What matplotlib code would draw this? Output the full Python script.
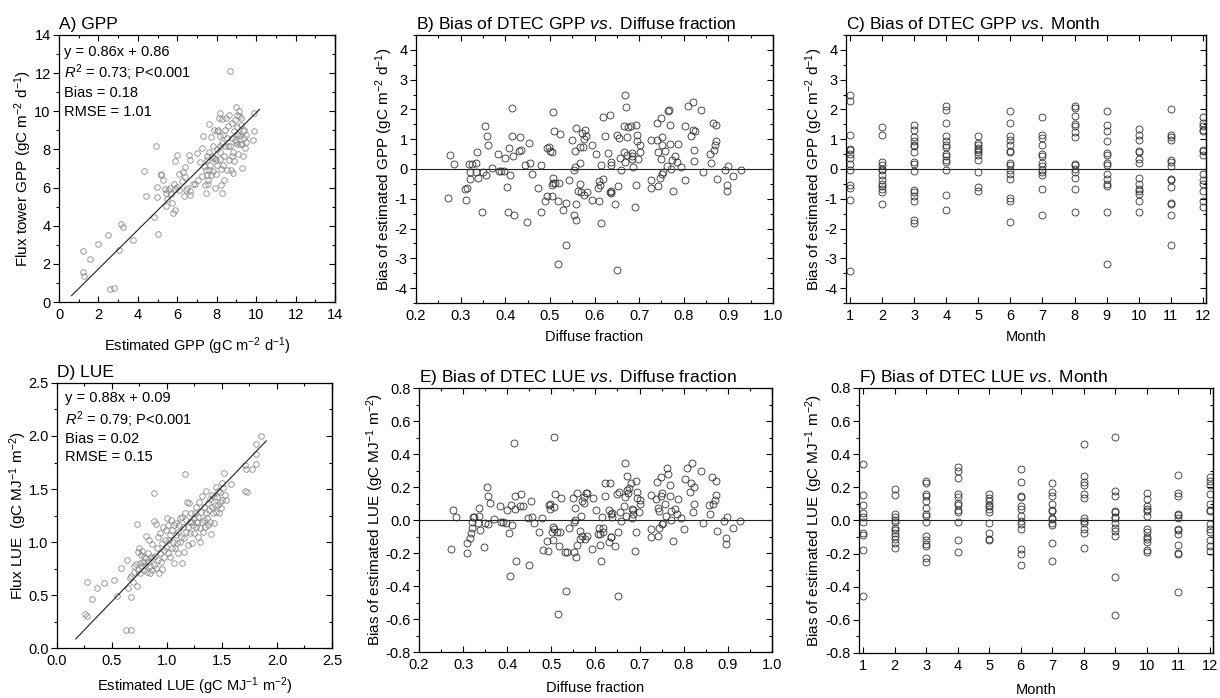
import matplotlib
matplotlib.use("Agg")
import matplotlib.pyplot as plt
from matplotlib.ticker import MultipleLocator, NullLocator, FormatStrFormatter

plt.rcParams['font.family'] = ['Liberation Sans', 'DejaVu Sans']
plt.rcParams['mathtext.fontset'] = 'custom'
plt.rcParams['mathtext.rm'] = 'Liberation Sans'
plt.rcParams['mathtext.it'] = 'Liberation Sans:italic'
plt.rcParams['axes.unicode_minus'] = False

# ---- A) GPP: estimated vs flux tower ----
a_est = [1.19, 1.22, 1.25, 1.56, 1.98, 2.46, 2.58, 2.78, 3.02, 3.15,
         3.25, 3.73, 4.30, 4.41, 4.92, 4.83, 4.98, 4.98, 5.03, 5.15,
         5.19, 5.29, 5.36, 5.41, 5.42, 5.46, 5.54, 5.63, 5.69, 5.73,
         5.76, 5.83, 5.86, 5.88, 5.90, 5.97, 5.97, 6.08, 6.10, 6.22,
         6.31, 6.36, 6.39, 6.41, 6.44, 6.51, 6.61, 6.64, 6.64, 6.64,
         6.81, 6.90, 6.98, 7.07, 7.17, 7.27, 7.32, 7.41, 7.46, 7.49,
         7.53, 7.53, 7.58, 7.59, 7.59, 7.63, 7.66, 7.69, 7.73, 7.76,
         7.80, 7.83, 7.86, 7.90, 7.92, 7.95, 7.97, 8.00, 8.03, 8.08,
         8.10, 8.14, 8.14, 8.17, 8.19, 8.20, 8.24, 8.25, 8.25, 8.29,
         8.31, 8.34, 8.37, 8.41, 8.44, 8.47, 8.51, 8.54, 8.58, 8.61,
         8.64, 8.66, 8.68, 8.71, 8.75, 8.78, 8.81, 8.85, 8.88, 8.90,
         8.93, 8.97, 9.00, 9.02, 9.03, 9.05, 9.07, 9.10, 9.12, 9.14,
         9.17, 9.19, 9.22, 9.25, 9.27, 9.29, 9.31, 9.34, 9.36, 9.39,
         9.42, 9.46, 9.49, 9.86, 9.88, 9.90,
         7.24, 7.36, 7.46, 7.56, 7.83, 8.00, 8.17, 8.39, 8.56, 8.78, 8.93, 9.05]
a_flux = [2.69, 1.55, 1.38, 2.25, 3.05, 3.49, 0.68, 0.73, 2.74, 4.10,
          3.91, 3.26, 6.88, 5.58, 8.18, 4.45, 6.01, 5.53, 3.58, 6.73,
          6.65, 6.39, 5.92, 5.74, 5.01, 5.39, 5.85, 5.97, 5.67, 5.18,
          4.66, 6.20, 4.83, 5.92, 7.40, 7.73, 6.02, 5.85, 6.70, 6.32,
          6.81, 5.57, 7.10, 6.58, 5.85, 5.97, 7.70, 5.80, 5.59, 7.42,
          6.20, 6.18, 7.82, 6.41, 7.33, 8.05, 8.72, 6.15, 5.74, 7.42,
          6.65, 7.65, 6.39, 6.93, 9.35, 7.86, 7.17, 6.65, 8.66, 7.68,
          8.17, 6.85, 9.04, 5.97, 7.56, 7.44, 6.69, 8.01, 7.16, 9.04,
          9.63, 9.93, 7.51, 8.70, 7.89, 6.98, 6.15, 5.74, 8.34, 9.58,
          7.16, 8.78, 7.68, 9.04, 8.17, 9.63, 6.93, 8.61, 9.23, 7.44,
          9.81, 12.11, 8.19, 6.93, 8.61, 9.37, 6.76, 7.89, 8.95, 7.38,
          9.55, 8.38, 10.21, 8.83, 9.81, 9.20, 7.77, 8.78, 9.77, 10.01,
          8.26, 8.70, 9.67, 9.28, 7.03, 8.31, 8.95, 7.64, 8.61, 9.04,
          8.10, 8.73, 8.38, 8.48, 8.95, 9.90,
          6.60, 7.12, 6.93, 6.18, 7.56, 8.95, 8.17, 6.41, 8.17, 7.64, 8.52, 8.26]
a_line_x = [0.63, 10.17]
a_line_y = [0.33, 10.10]
a_stats = ["y = 0.86x + 0.86", "$R^2$ = 0.73; P<0.001", "Bias = 0.18", "RMSE = 1.01"]

# ---- B) GPP bias vs diffuse fraction ----
b_df = [0.271, 0.277, 0.285, 0.311, 0.31, 0.315, 0.319, 0.32, 0.32, 0.325,
        0.335, 0.336, 0.334, 0.338, 0.347, 0.35, 0.355, 0.357, 0.358, 0.361,
        0.371, 0.384, 0.387, 0.39, 0.397, 0.4, 0.403, 0.407, 0.408, 0.41,
        0.415, 0.416, 0.417, 0.419, 0.431, 0.432, 0.435, 0.444, 0.449, 0.453,
        0.456, 0.46, 0.474, 0.481, 0.481, 0.489, 0.493, 0.494, 0.499, 0.5,
        0.505, 0.504, 0.506, 0.506, 0.506, 0.505, 0.51, 0.512, 0.519, 0.519,
        0.52, 0.523, 0.53, 0.535, 0.535, 0.542, 0.55, 0.553, 0.554, 0.556,
        0.556, 0.558, 0.559, 0.558, 0.563, 0.567, 0.567, 0.568, 0.57, 0.573,
        0.574, 0.576, 0.576, 0.579, 0.581, 0.583, 0.595, 0.595, 0.604, 0.608,
        0.609, 0.611, 0.612, 0.614, 0.615, 0.619, 0.62, 0.623, 0.63, 0.634,
        0.634, 0.636, 0.637, 0.637, 0.638, 0.645, 0.65, 0.651, 0.652, 0.655,
        0.658, 0.66, 0.665, 0.666, 0.668, 0.668, 0.67, 0.672, 0.673, 0.676,
        0.682, 0.683, 0.685, 0.685, 0.686, 0.69, 0.692, 0.693, 0.696, 0.696,
        0.697, 0.701, 0.703, 0.726, 0.727, 0.727, 0.739, 0.74, 0.743, 0.743,
        0.746, 0.748, 0.749, 0.751, 0.752, 0.752, 0.754, 0.759, 0.762, 0.766,
        0.765, 0.77, 0.77, 0.771, 0.773, 0.777, 0.78, 0.785, 0.787, 0.794,
        0.802, 0.803, 0.81, 0.817, 0.82, 0.82, 0.822, 0.824, 0.826, 0.839,
        0.844, 0.859, 0.861, 0.865, 0.868, 0.87, 0.873, 0.873, 0.875, 0.892,
        0.897, 0.897, 0.9, 0.911, 0.929]
b_bias = [-0.99, 0.48, 0.18, -1.05, -0.67, -0.65, 0.17, -0.11, -0.33, 0.17,
          0.2, 0.58, -0.11, -0.3, -1.44, -0.11, 1.46, -0.2, 1.1, 0.82,
          0.02, 0.49, -0.07, -0.07, -0.07, 0.36, -0.61, -1.46, 0.7, -0.2,
          2.04, 1.12, 0.45, -1.55, 0.62, 1.08, 0.64, 0.13, -1.78, 0.86,
          0.2, -0.16, -0.65, 0.13, -1.46, -1.08, -0.9, 0.71, 0.75, 0.62,
          0.56, -0.54, -0.47, -0.29, 1.93, -0.9, 1.26, -0.48, -1.07, -3.18,
          -0.48, 1.16, -1.37, -2.55, -1.15, -0.37, 0.96, -1.55, -0.03, 0.07,
          0.62, -1.72, -1.17, 1.36, -0.73, -0.49, 0.2, 0.74, -0.76, 1.22,
          0.75, 1.02, -0.89, 1.31, 1.12, -0.76, -1.04, 0.82, 0.49, -0.63,
          -0.42, -1.08, -0.55, -1.8, 0.15, -0.35, 1.74, 1.12, 0.55, 1.8,
          -0.76, -0.81, -0.74, 0.24, 0.13, -1.17, 1.15, -3.4, -0.56, 1.04,
          0.38, -0.03, 0.58, 1.46, 0.22, 2.49, 2.08, 1.06, 0.47, 1.4,
          1.43, 0.43, 0.34, 0.52, 0.08, -1.28, 1.48, -0.53, 1.13, 0.94,
          0.34, 0.58, 0.79, -0.65, 0.97, -0.37, 0.97, 1.55, 0.56, -0.58,
          -0.31, 0.34, 1.71, 1.09, 0.79, -0.17, -0.11, 0.6, 0.11, 1.99,
          1.94, 0.84, 1.48, -0.01, 0.3, -0.74, 0.45, 0.22, 0.83, 0.06,
          -0.36, 1.43, 2.11, 1.12, 2.26, 1.3, 0.28, 0.65, 1.29, 1.98,
          -0.09, 0.49, 0.2, 1.54, 0.64, 0.79, 1.48, 0.94, -0.34, -0.02,
          -0.53, -0.73, 0.11, -0.24, -0.03]

# ---- C) GPP bias by month ----
months = list(range(1, 13))
c_bias_by_month = [
    [2.49, 2.27, 1.15, 0.67, 0.63, 0.51, 0.37, 0.17, -0.02, -0.53, -0.64, -1.05, -3.41],
    [1.40, 1.13, 0.23, 0.12, 0.01, -0.02, -0.21, -0.36, -0.49, -0.58, -0.67, -0.77, -1.18],
    [1.49, 1.32, 1.07, 0.93, 0.79, 0.76, 0.56, 0.22, 0.17, -0.06, -0.72, -0.77, -0.92, -1.08, -1.72, -1.81],
    [2.12, 1.99, 1.54, 1.12, 0.93, 0.79, 0.74, 0.50, 0.42, 0.31, 0.23, -0.02, -0.87, -1.39],
    [1.12, 0.87, 0.79, 0.70, 0.65, 0.56, 0.48, 0.31, -0.10, -0.60, -0.73],
    [1.96, 1.56, 1.10, 0.98, 0.79, 0.61, 0.58, 0.20, 0.15, -0.02, -0.16, -0.34, -0.99, -1.07, -1.77],
    [1.74, 1.15, 1.04, 0.82, 0.51, 0.42, 0.20, 0.09, -0.02, -0.11, -0.21, -0.67, -1.55],
    [2.10, 2.04, 1.79, 1.52, 1.45, 1.24, 1.07, 0.17, 0.12, 0.00, -0.11, -0.30, -0.66, -1.45],
    [1.96, 1.49, 1.26, 0.93, 0.54, 0.46, 0.20, 0.12, -0.16, -0.32, -0.50, -0.56, -1.45, -3.18],
    [1.35, 1.15, 0.98, 0.61, 0.56, 0.34, 0.20, -0.30, -0.50, -0.67, -0.75, -0.84, -1.08, -1.45],
    [2.02, 1.15, 1.06, 0.96, 0.31, 0.23, 0.09, -0.34, -0.38, -0.61, -1.14, -1.17, -1.56, -2.54],
    [1.73, 1.56, 1.43, 1.32, 1.28, 0.63, 0.59, 0.46, -0.16, -0.36, -0.50, -0.75, -1.08, -1.27],
]

# ---- D) LUE: estimated vs flux ----
d_est = [0.252, 0.273, 0.273, 0.315, 0.364, 0.43, 0.518, 0.542, 0.582, 0.624, 0.673,
         0.636, 0.648, 0.661, 0.673, 0.676, 0.691, 0.697, 0.703, 0.715, 0.727, 0.727,
         0.733, 0.739, 0.745, 0.752, 0.758, 0.764, 0.77, 0.776, 0.782, 0.788, 0.794, 0.80,
         0.806, 0.812, 0.818, 0.824, 0.83, 0.836, 0.842, 0.848, 0.855, 0.861, 0.867, 0.873,
         0.879, 0.882, 0.885, 0.891, 0.897, 0.903, 0.909, 0.915, 0.921, 0.927, 0.933, 0.939,
         0.945, 0.952, 0.958, 0.964, 0.97, 0.976, 0.982, 0.988, 0.994, 1.0, 1.006, 1.012,
         1.018, 1.024, 1.03, 1.036, 1.042, 1.048, 1.055, 1.061, 1.067, 1.073, 1.079, 1.085,
         1.091, 1.097, 1.103, 1.109, 1.115, 1.121, 1.127, 1.133, 1.139, 1.145, 1.152, 1.158,
         1.164, 1.164, 1.17, 1.176, 1.182, 1.188, 1.194, 1.20, 1.206, 1.212, 1.218, 1.224,
         1.23, 1.236, 1.242, 1.248, 1.255, 1.261, 1.267, 1.273, 1.279, 1.285, 1.291, 1.297,
         1.303, 1.309, 1.315, 1.321, 1.327, 1.333, 1.339, 1.345, 1.352, 1.358, 1.364, 1.37,
         1.376, 1.382, 1.388, 1.394, 1.40, 1.406, 1.412, 1.418, 1.424, 1.43, 1.436, 1.442,
         1.448, 1.455, 1.461, 1.467, 1.473, 1.479, 1.485, 1.491, 1.497, 1.503, 1.509,
         1.521, 1.53, 1.539, 1.582, 1.706, 1.721, 1.712, 1.727, 1.776, 1.812, 1.812, 1.852, 1.806]
d_flux = [0.32, 0.304, 0.621, 0.461, 0.568, 0.612, 0.637, 0.492, 0.753, 0.166, 0.173,
          0.831, 0.565, 0.665, 0.48, 0.681, 0.627, 0.715, 0.769, 0.794, 1.17, 0.587,
          0.907, 0.737, 0.941, 0.806, 0.706, 0.878, 0.769, 0.919, 0.816, 0.737, 0.863, 0.784,
          1.057, 0.847, 0.721, 0.894, 0.816, 1.019, 0.769, 0.706, 0.856, 0.982, 0.737, 0.847,
          0.784, 1.198, 1.459, 0.869, 1.17, 0.753, 0.941, 0.831, 1.051, 0.706, 0.894, 1.082,
          0.816, 0.988, 0.743, 1.145, 0.925, 0.863, 1.019, 1.114, 0.95, 1.223, 0.894, 1.161,
          1.019, 0.863, 1.066, 1.208, 0.941, 1.114, 1.003, 0.806, 1.161, 0.941, 1.066, 1.176,
          0.988, 0.894, 1.098, 1.161, 1.003, 1.223, 1.051, 1.239, 0.806, 1.145, 0.91, 1.035,
          1.637, 1.27, 1.098, 1.208, 1.38, 0.972, 1.145, 1.364, 1.192, 1.088, 1.27, 1.192,
          0.988, 1.161, 1.223, 1.082, 1.27, 1.145, 1.333, 1.192, 1.051, 1.239, 1.38, 1.129,
          1.003, 1.286, 1.192, 1.434, 1.098, 1.333, 1.208, 1.145, 1.27, 1.484, 1.223, 1.364,
          1.161, 1.302, 1.403, 1.192, 1.073, 1.333, 1.443, 1.27, 1.183, 1.427, 1.349, 1.521,
          1.286, 1.427, 1.349, 1.484, 1.27, 1.38, 1.474, 1.317, 1.553, 1.396, 1.506,
          1.653, 1.443, 1.396, 1.546, 1.731, 1.684, 1.481, 1.474, 1.684, 1.829, 1.929, 2.004, 1.735]
d_line_x = [0.17, 1.903]
d_line_y = [0.085, 1.954]
d_stats = ["y = 0.88x + 0.09", "$R^2$ = 0.79; P<0.001", "Bias = 0.02", "RMSE = 0.15"]

# ---- E) LUE bias vs diffuse fraction ----
e_df = [0.272, 0.277, 0.285, 0.31, 0.31, 0.316, 0.318, 0.32, 0.32, 0.322,
        0.325, 0.335, 0.336, 0.334, 0.338, 0.347, 0.35, 0.355, 0.357, 0.357,
        0.361, 0.369, 0.384, 0.386, 0.39, 0.397, 0.4, 0.403, 0.407, 0.408,
        0.411, 0.415, 0.417, 0.418, 0.421, 0.429, 0.432, 0.435, 0.447, 0.45,
        0.454, 0.456, 0.461, 0.473, 0.48, 0.481, 0.49, 0.492, 0.494, 0.498,
        0.498, 0.502, 0.504, 0.505, 0.504, 0.506, 0.509, 0.507, 0.513, 0.516,
        0.518, 0.519, 0.522, 0.53, 0.534, 0.535, 0.541, 0.549, 0.552, 0.552,
        0.553, 0.554, 0.557, 0.558, 0.558, 0.564, 0.565, 0.567, 0.569, 0.57,
        0.573, 0.574, 0.577, 0.578, 0.581, 0.582, 0.593, 0.594, 0.602, 0.606,
        0.609, 0.61, 0.611, 0.613, 0.614, 0.617, 0.618, 0.621, 0.621, 0.63,
        0.631, 0.633, 0.635, 0.635, 0.637, 0.636, 0.638, 0.645, 0.65, 0.651,
        0.651, 0.654, 0.656, 0.659, 0.664, 0.667, 0.667, 0.669, 0.671, 0.671,
        0.674, 0.675, 0.68, 0.683, 0.684, 0.686, 0.686, 0.689, 0.692, 0.692,
        0.694, 0.695, 0.698, 0.7, 0.702, 0.725, 0.726, 0.726, 0.737, 0.739,
        0.741, 0.742, 0.743, 0.745, 0.748, 0.749, 0.751, 0.751, 0.754, 0.757,
        0.76, 0.763, 0.764, 0.768, 0.769, 0.771, 0.772, 0.775, 0.78, 0.785,
        0.787, 0.793, 0.801, 0.803, 0.808, 0.814, 0.817, 0.819, 0.822, 0.823,
        0.824, 0.839, 0.843, 0.858, 0.86, 0.864, 0.867, 0.87, 0.873, 0.873,
        0.875, 0.892, 0.896, 0.896, 0.899, 0.911, 0.928]
e_bias = [-0.176, 0.059, 0.02, -0.197, -0.138, -0.107, -0.077, -0.047, -0.01, 0.02,
          0.02, 0.026, 0.075, -0.016, -0.061, -0.166, -0.016, 0.199, -0.026, 0.146,
          0.105, 0.004, 0.087, -0.01, -0.01, -0.02, 0.061, -0.081, -0.34, 0.091,
          -0.03, 0.466, 0.146, 0.067, -0.247, 0.087, 0.158, 0.087, 0.014, -0.27,
          0.117, 0.02, -0.02, -0.073, 0.014, -0.182, -0.127, -0.188, 0.091, 0.067,
          0.095, -0.071, -0.04, 0.506, -0.121, 0.081, 0.156, -0.057, -0.073, -0.571,
          -0.158, -0.075, 0.136, -0.193, -0.431, -0.195, -0.047, 0.134, -0.195, -0.01,
          0.0, 0.075, -0.227, -0.15, 0.166, -0.117, -0.067, 0.024, -0.097, 0.115,
          0.101, 0.142, -0.117, 0.162, 0.162, -0.097, -0.178, 0.132, 0.061, -0.087,
          -0.051, -0.087, -0.154, -0.249, 0.02, -0.075, -0.047, 0.227, 0.146, 0.061,
          -0.134, 0.227, -0.101, 0.036, 0.02, -0.105, 0.04, -0.158, 0.156, -0.075,
          -0.46, 0.172, 0.047, -0.006, 0.085, 0.142, 0.348, 0.026, 0.182, 0.269,
          0.162, 0.197, 0.223, 0.065, 0.01, 0.034, 0.061, -0.186, -0.075, 0.237,
          0.168, 0.136, 0.047, 0.097, 0.122, -0.101, -0.057, 0.152, 0.126, 0.233,
          0.071, -0.095, -0.047, 0.055, 0.259, 0.146, 0.162, -0.026, -0.02, 0.097,
          0.024, 0.314, 0.277, 0.146, 0.213, 0.0, 0.057, -0.125, 0.065, 0.034,
          0.126, 0.01, -0.057, 0.247, 0.318, 0.172, 0.227, 0.344, 0.047, 0.203,
          0.097, 0.298, -0.02, 0.091, 0.036, 0.259, 0.097, 0.122, 0.237, 0.152,
          -0.067, -0.006, -0.107, -0.146, 0.02, -0.047, -0.006]

# ---- F) LUE bias by month ----
f_bias_by_month = [
    [0.342, 0.152, 0.092, 0.046, 0.02, -0.008, -0.074, -0.09, -0.178, -0.458],
    [0.192, 0.156, 0.04, 0.02, 0.0, -0.01, -0.044, -0.06, -0.078, -0.094, -0.114, -0.138, -0.164],
    [0.236, 0.226, 0.16, 0.15, 0.12, 0.076, 0.04, 0.026, -0.01, -0.094, -0.118, -0.144, -0.154, -0.224, -0.25],
    [0.32, 0.296, 0.256, 0.162, 0.14, 0.106, 0.092, 0.066, 0.052, -0.008, -0.118, -0.19],
    [0.162, 0.136, 0.12, 0.096, 0.086, 0.072, 0.052, -0.018, -0.078, -0.11, -0.12],
    [0.31, 0.232, 0.15, 0.142, 0.09, 0.07, 0.026, -0.004, -0.024, -0.05, -0.174, -0.2, -0.268],
    [0.226, 0.17, 0.15, 0.102, 0.066, 0.056, 0.016, 0.006, -0.014, -0.028, -0.138, -0.244],
    [0.462, 0.27, 0.232, 0.212, 0.16, 0.136, 0.016, -0.004, -0.014, -0.054, -0.078, -0.168],
    [0.502, 0.18, 0.146, 0.06, 0.052, 0.022, 0.012, -0.018, -0.044, -0.064, -0.094, -0.34, -0.57],
    [0.166, 0.13, 0.086, 0.07, 0.056, 0.026, -0.05, -0.068, -0.098, -0.11, -0.128, -0.18, -0.19],
    [0.276, 0.166, 0.146, 0.042, 0.032, 0.012, -0.05, -0.058, -0.084, -0.15, -0.194, -0.2, -0.43],
    [0.26, 0.236, 0.212, 0.162, 0.102, 0.066, 0.056, -0.024, -0.05, -0.068, -0.12, -0.154, -0.184],
]

gpp_unit = "(gC m$^{-2}$ d$^{-1}$)"
lue_unit = "(gC MJ$^{-1}$ m$^{-2}$)"


def style(ax, xlim, ylim, xmaj, xmin, ymaj, ymin):
    ax.set_xlim(*xlim)
    ax.set_ylim(*ylim)
    ax.xaxis.set_major_locator(MultipleLocator(xmaj))
    ax.xaxis.set_minor_locator(MultipleLocator(xmin) if xmin else NullLocator())
    ax.yaxis.set_major_locator(MultipleLocator(ymaj))
    ax.yaxis.set_minor_locator(MultipleLocator(ymin))
    for s in ax.spines.values():
        s.set_linewidth(0.9)
    ax.tick_params(axis='x', which='both', direction='in', top=True, bottom=True,
                   labelsize=10.5, width=0.8, pad=4)
    ax.tick_params(axis='y', which='both', direction='out', left=True, right=False,
                   labelsize=10.5, width=0.8, pad=2)
    ax.tick_params(which='major', length=4)
    ax.tick_params(which='minor', length=2.5)
    sec = ax.secondary_yaxis('right')
    sec.yaxis.set_major_locator(MultipleLocator(ymaj))
    sec.yaxis.set_minor_locator(MultipleLocator(ymin))
    sec.tick_params(which='both', direction='in', labelright=False, width=0.8)
    sec.tick_params(which='major', length=4)
    sec.tick_params(which='minor', length=2.5)
    sec.spines['right'].set_linewidth(0.9)


def labels(ax, title, xlabel, ylabel, xl_y, yl_x):
    ax.set_title(title, loc='left', fontsize=12.5, pad=4)
    ax.set_xlabel(xlabel, fontsize=10.5)
    ax.set_ylabel(ylabel, fontsize=11)
    ax.xaxis.set_label_coords(0.5, xl_y)
    ax.yaxis.set_label_coords(yl_x, 0.5)


def stats_text(ax, lines, x, ys):
    for t, y in zip(lines, ys):
        ax.text(x, y, t, transform=ax.transAxes, fontsize=10.5, va='center', ha='left')


fig = plt.figure(figsize=(12.2, 6.98), dpi=100)

open_dark = dict(ls='none', marker='o', mfc='none', mec='#303030', ms=5, mew=0.6)
open_grey = dict(ls='none', marker='o', mfc='none', mec='#8a8a8a', ms=4, mew=0.6)

# A
axA = fig.add_axes([0.0484, 0.5673, 0.2262, 0.3826])
axA.plot(a_est, a_flux, **open_grey)
axA.plot(a_line_x, a_line_y, color='#202020', lw=0.8)
style(axA, (0, 14), (0, 14), 2, 1, 2, 1)
labels(axA, "A) GPP", "Estimated GPP " + gpp_unit, "Flux tower GPP " + gpp_unit, -0.124, -0.09)
stats_text(axA, a_stats, 0.018, [0.936, 0.858, 0.783, 0.712])

# B
axB = fig.add_axes([0.341, 0.5659, 0.2926, 0.384])
axB.axhline(0, color='#202020', lw=0.8)
axB.plot(b_df, b_bias, **open_dark)
style(axB, (0.2, 1.0), (-4.5, 4.5), 0.1, 0.05, 1, 0.5)
labels(axB, "B) Bias of DTEC GPP $\\mathit{vs.}$ Diffuse fraction", "Diffuse fraction",
       "Bias of estimated GPP " + gpp_unit, -0.10, -0.06)

# C
axC = fig.add_axes([0.6934, 0.5659, 0.2951, 0.384])
axC.axhline(0, color='#202020', lw=0.8)
for m, vals in zip(months, c_bias_by_month):
    axC.plot([m] * len(vals), vals, **open_dark)
style(axC, (0.87, 12.1), (-4.5, 4.5), 1, None, 1, 0.5)
labels(axC, "C) Bias of DTEC GPP $\\mathit{vs.}$ Month", "Month",
       "Bias of estimated GPP " + gpp_unit, -0.10, -0.058)

# D
axD = fig.add_axes([0.0467, 0.0716, 0.2254, 0.3797])
axD.plot(d_est, d_flux, **open_grey)
axD.plot(d_line_x, d_line_y, color='#202020', lw=0.8)
style(axD, (0, 2.5), (0, 2.5), 0.5, 0.25, 0.5, 0.25)
axD.xaxis.set_major_formatter(FormatStrFormatter('%.1f'))
axD.yaxis.set_major_formatter(FormatStrFormatter('%.1f'))
labels(axD, "D) LUE", "Estimated LUE " + lue_unit, "Flux LUE  " + lue_unit, -0.105, -0.1)
stats_text(axD, d_stats, 0.03, [0.943, 0.86, 0.789, 0.721])

# E
axE = fig.add_axes([0.3434, 0.0659, 0.2893, 0.3782])
axE.axhline(0, color='#202020', lw=0.8)
axE.plot(e_df, e_bias, **open_dark)
style(axE, (0.2, 1.0), (-0.8, 0.8), 0.1, 0.05, 0.2, 0.1)
axE.yaxis.set_major_formatter(FormatStrFormatter('%.1f'))
labels(axE, "E) Bias of DTEC LUE $\\mathit{vs.}$ Diffuse fraction", "Diffuse fraction",
       "Bias of estimated LUE " + lue_unit, -0.11, -0.093)

# F
axF = fig.add_axes([0.7041, 0.0645, 0.2902, 0.3797])
axF.axhline(0, color='#202020', lw=0.8)
for m, vals in zip(months, f_bias_by_month):
    axF.plot([m] * len(vals), vals, **open_dark)
style(axF, (0.87, 12.1), (-0.8, 0.8), 1, None, 0.2, 0.1)
axF.yaxis.set_major_formatter(FormatStrFormatter('%.1f'))
labels(axF, "F) Bias of DTEC LUE $\\mathit{vs.}$ Month", "Month",
       "Bias of estimated LUE " + lue_unit, -0.115, -0.095)

fig.savefig("out.png", dpi=100)
